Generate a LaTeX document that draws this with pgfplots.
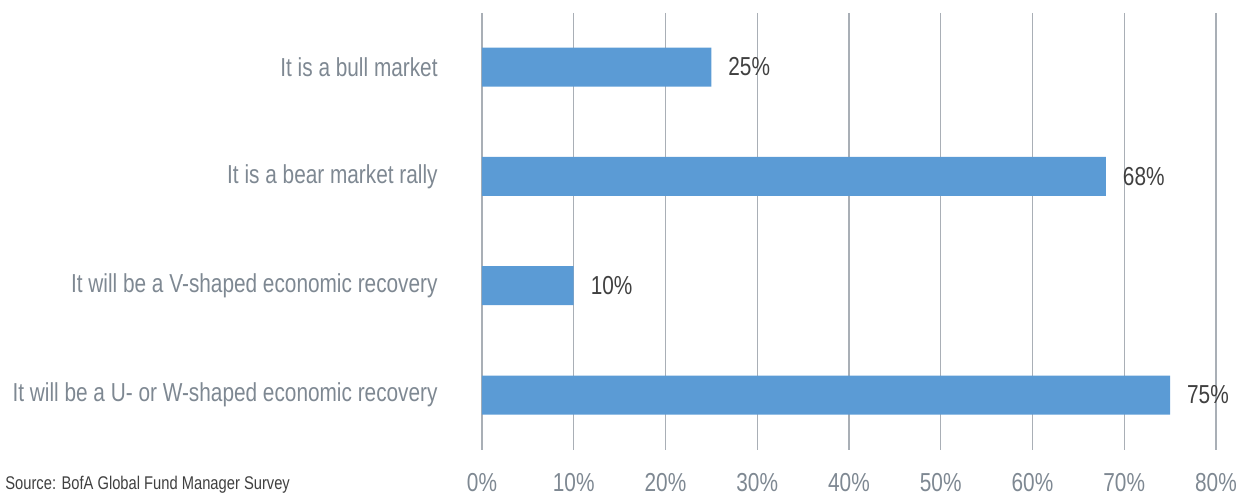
\documentclass[border=0pt]{standalone}
\usepackage{pgfplots}
\pgfplotsset{compat=1.18}
\usepackage{fontspec}
\setmainfont{Liberation Sans}[FakeStretch=0.8]
\definecolor{barblue}{HTML}{5B9BD5}
\definecolor{labgray}{HTML}{7E8892}
\definecolor{valgray}{HTML}{404040}
\definecolor{gridgray}{HTML}{A9AFB6}
\begin{document}
\begin{tikzpicture}
\path[use as bounding box] (-241pt,-23.5pt) rectangle (380pt,225pt);
\begin{axis}[
  at={(0,0)}, anchor=south west,
  scale only axis,
  width=367pt, height=218.5pt,
  xmin=0, xmax=80,
  ymin=-0.494, ymax=3.503,
  y dir=reverse,
  xbar, bar width=19.5pt,
  axis line style={draw=none},
  major tick length=0pt,
  xmajorgrids, grid style={gridgray, line width=0.6pt},
  xtick={0,10,...,80},
  xticklabel={\pgfmathprintnumber{\tick}\%},
  xticklabel style={text=labgray, font=\fontsize{13}{15}\selectfont, yshift=-8pt},
  ytick={0,1,2,3},
  yticklabels={It is a bull market, It is a bear market rally, It will be a V-shaped economic recovery, It will be a U- or W-shaped economic recovery},
  yticklabel style={text=labgray, font=\fontsize{13}{15}\selectfont, anchor=east, inner sep=0pt, xshift=-22pt},
  /pgf/number format/assume math mode=true,
  nodes near coords={\pgfmathprintnumber{\pgfplotspointmeta}\%},
  point meta=x,
  nodes near coords style={text=valgray, font=\fontsize{13}{15}\selectfont, anchor=west, xshift=5pt},
  clip=false,
]
\addplot[fill=barblue, draw=none] coordinates {(25,0) (68,1) (10,2) (75,3)};
\end{axis}
\node[anchor=base west, text=valgray, font=\fontsize{9.2}{11}\selectfont, inner sep=0pt] at (-238.5pt,-20pt) {Source: BofA Global Fund Manager Survey};
\end{tikzpicture}
\end{document}
